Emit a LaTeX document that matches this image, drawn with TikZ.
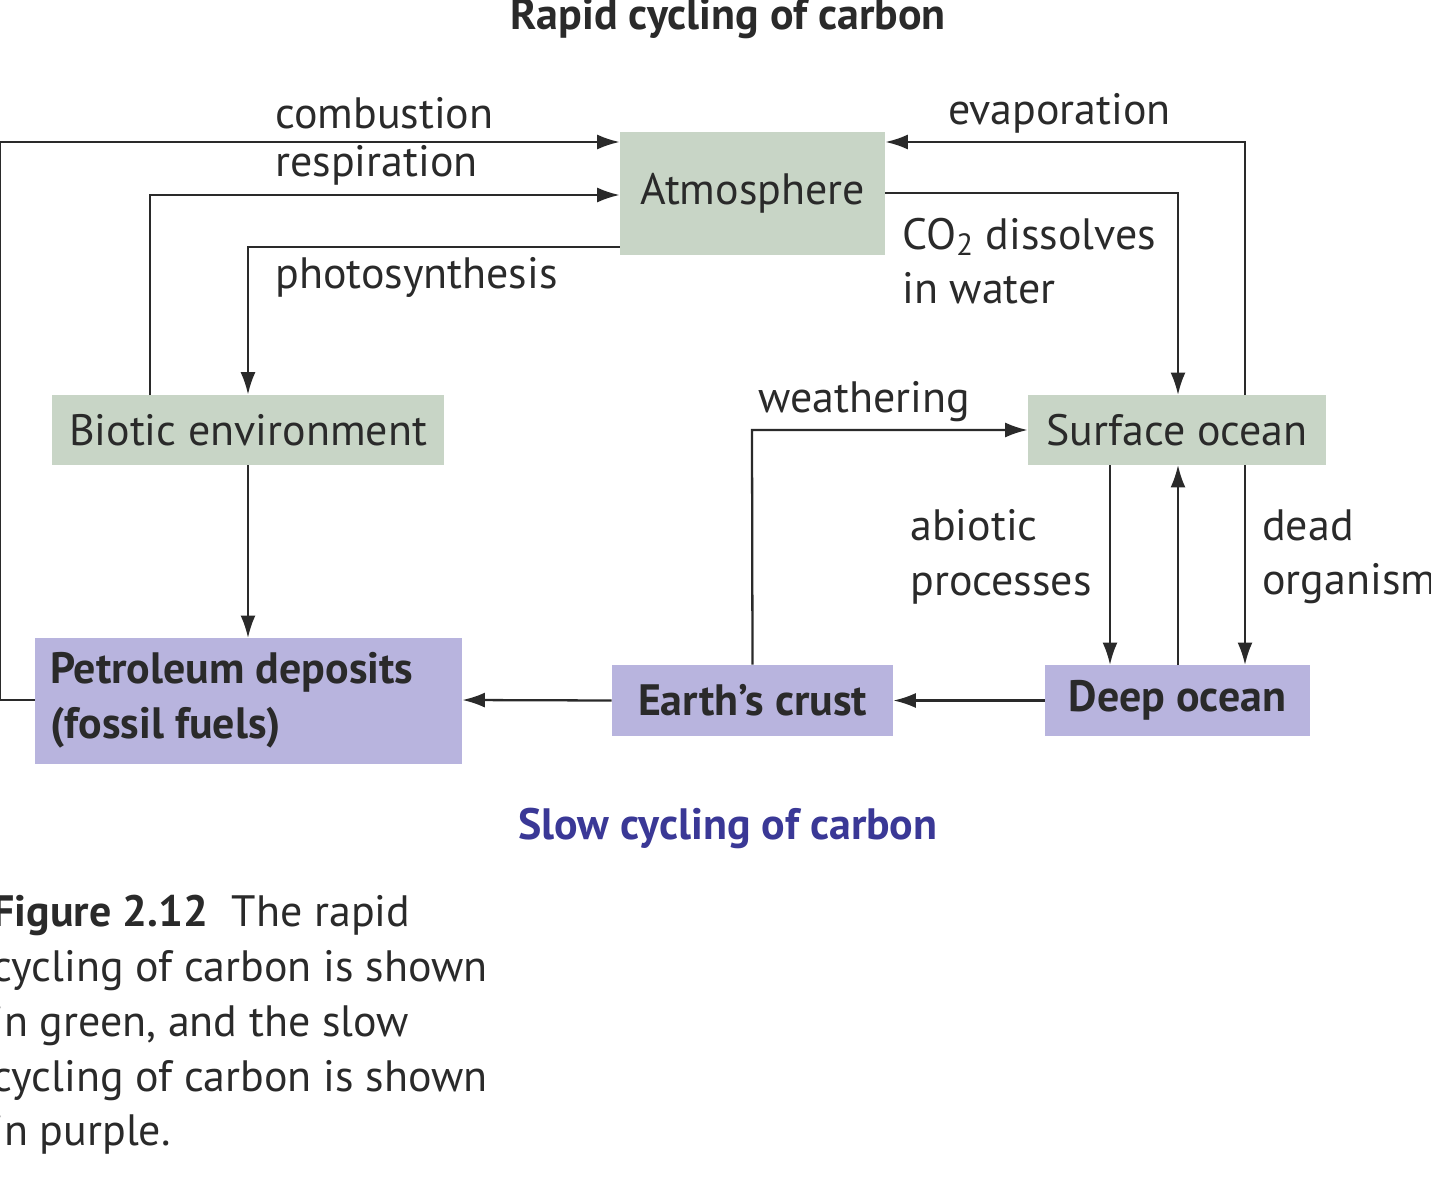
\documentclass[tikz,border=0pt]{standalone}
\usepackage{fontspec}
\setmainfont{PT Sans}
\usetikzlibrary{arrows.meta}
\definecolor{grn}{HTML}{C8D5C6}
\definecolor{prp}{HTML}{B8B4DE}
\definecolor{ttl}{HTML}{3A3896}
\definecolor{ink}{HTML}{2A2A2A}
\begin{document}
\begin{tikzpicture}[x=0.02cm,y=-0.02cm,
  every node/.style={font=\fontsize{25}{31}\selectfont,text=ink},
  gbox/.style={fill=grn,inner sep=0},
  pbox/.style={fill=prp,inner sep=0},
  lbl/.style={anchor=west,inner sep=0,align=left},
  arr/.style={draw=ink,line width=1.3pt,-{Latex[length=0.45cm,width=0.3cm]}}]
\useasboundingbox (0,0) rectangle (1431,1200);
\clip (0,0) rectangle (1431,1200);
% boxes
\node[gbox,minimum width=265*0.02cm,minimum height=123*0.02cm] (atm) at (752.5,193.5) {Atmosphere};
\node[gbox,minimum width=392*0.02cm,minimum height=70*0.02cm] (bio) at (248,430) {Biotic environment};
\node[gbox,minimum width=298*0.02cm,minimum height=70*0.02cm] (surf) at (1177,430) {Surface ocean};
\node[pbox,minimum width=427*0.02cm,minimum height=126*0.02cm] (pet) at (248.5,701) {};
\node[lbl,font=\fontsize{25}{31}\selectfont\bfseries] (pettxt) at (50,700) {Petroleum deposits\\(fossil fuels)};
\node[pbox,minimum width=281*0.02cm,minimum height=71*0.02cm,font=\fontsize{25}{31}\selectfont\bfseries] (crust) at (752.5,700.5) {Earth’s crust};
\node[pbox,minimum width=265*0.02cm,minimum height=71*0.02cm,font=\fontsize{25}{31}\selectfont\bfseries] (deep) at (1177.5,700.5) {Deep ocean};
% connectors
\draw[arr] (pet.west |- 0,700) -- (0,700) -- (0,142) -- (atm.west |- 0,142);
\draw[arr] (150,395) -- (150,195) -- (atm.west |- 0,195);
\draw[arr] (atm.west |- 0,247) -- (248,247) -- (bio.north -| 248,0);
\draw[arr] (1245,395) -- (1245,142) -- (atm.east |- 0,142);
\draw[arr] (atm.east |- 0,193) -- (1178,193) -- (1178,395);
\draw[arr] (crust.north) -- (752,430) -- (surf.west |- 0,430);
\draw[arr] (bio.south) -- (248,638);
\draw[arr] (1110,465) -- (1110,665);
\draw[arr] (1178,665) -- (1178,465);
\draw[arr] (1245,465) -- (1245,665);
\draw[arr] (deep.west) -- (crust.east);
\draw[arr] (crust.west) -- (pet.east |- 0,700);
% labels
\node[lbl] (l1) at (275,113) {combustion};
\node[lbl] (l2) at (275,165) {respiration};
\node[lbl] (l3) at (275,277) {photosynthesis};
\node[lbl] (l4) at (948,113) {evaporation};
\node[lbl] (l5) at (902,261) {CO\textsubscript{2} dissolves\\in water};
\node[lbl] (l6) at (758,402) {weathering};
\node[lbl] (l7) at (910,557) {abiotic\\processes};
\node[lbl] (l8) at (1262,557) {dead\\organisms};
\node[font=\fontsize{25}{31}\selectfont\bfseries] (t1) at (728,19) {Rapid cycling of carbon};
\node[font=\fontsize{25}{31}\selectfont\bfseries,text=ttl] (t2) at (728,828) {Slow cycling of carbon};
\node[lbl,font=\fontsize{25}{31.2}\selectfont] (cap) at (-8,1025) {\textbf{Figure 2.12}\; The rapid\\cycling of carbon is shown\\in green, and the slow\\cycling of carbon is shown\\in purple.};
\end{tikzpicture}
\end{document}
